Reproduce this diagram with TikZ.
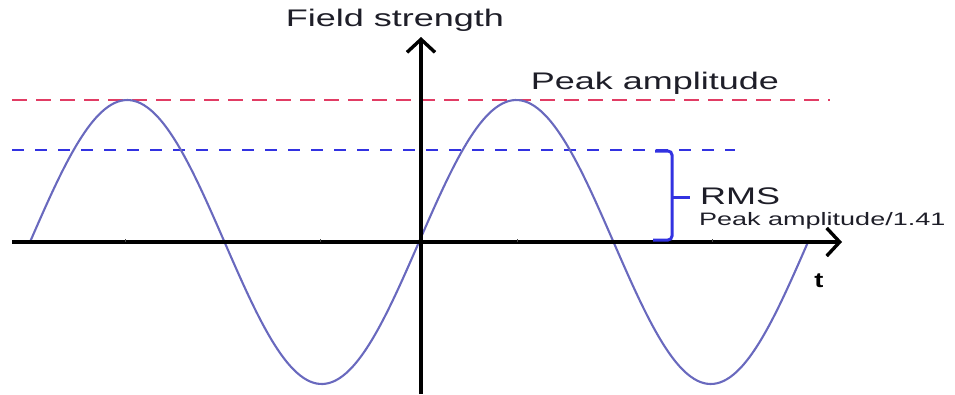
\documentclass[tikz,border=0pt]{standalone}
\usepackage{fontspec}
\setmainfont{Liberation Sans}
\usetikzlibrary{arrows.meta}
\definecolor{wave}{RGB}{105,105,190}
\definecolor{peakred}{RGB}{225,60,100}
\definecolor{rmsblue}{RGB}{50,50,225}
\definecolor{txt}{RGB}{30,30,40}
\begin{document}
\begin{tikzpicture}[x=1pt,y=-1pt,
  axis/.style={line width=3.6pt,black,-{Straight Barb[length=13pt,width=28pt,line width=3.4pt]}},
  lbl/.style={text=txt,inner sep=0pt,font=\fontsize{24}{26}\selectfont},
  small/.style={text=txt,inner sep=0pt,font=\fontsize{18}{20}\selectfont},
  refline/.style={line width=2.8pt,dash pattern=on 15pt off 9pt}]
\useasboundingbox (0,0) rectangle (955,394);
% coordinates
\coordinate (xs) at (12,242);
\coordinate (xe) at (842,242);
\coordinate (ys) at (421,394);
\coordinate (ye) at (421,37);
\coordinate (pks) at (12,100);
\coordinate (pke) at (830,100);
\coordinate (rms) at (12,150);
\coordinate (rme) at (735,150);
% reference lines
\draw[refline,peakred] (pks) -- (pke);
\draw[refline,rmsblue,dash pattern=on 12pt off 11pt] (rms) -- (rme);
% sine wave
\draw[wave,line width=2.1pt] plot[domain=0:778,samples=240,smooth] ({30+\x},{242-142*sin(0.92545*\x)});
% axes
\draw[axis] (xs) -- (xe);
\draw[axis] (ys) -- (ye);
% ticks
\foreach \tx in {125,320,517,712}{\draw[line width=0.8pt,black!70] (\tx,242) -- (\tx,238.5);}
% brace
\coordinate (bt) at (655,151);
\coordinate (bb) at (653,240);
\coordinate (bm) at (672,197);
\coordinate (bmt) at (690,197);
\draw[rmsblue,line width=3pt,rounded corners=4pt] (bt) -- (672,151) -- (672,240) -- (bb);
\draw[rmsblue,line width=3pt] (bm) -- (bmt);
% labels
\node[lbl] (fs) at (395,20) {\scalebox{1.5}[1]{Field strength}};
\node[lbl] (pa) at (655,83) {\scalebox{1.5}[1]{Peak amplitude}};
\node[lbl,anchor=west] (rmsl) at (700,196) {\scalebox{1.5}[1]{RMS}};
\node[small,anchor=west] (pal) at (699,221) {\scalebox{1.5}[1]{Peak amplitude/1.41}};
\node[inner sep=0pt,font=\fontsize{21}{23}\selectfont\bfseries] (t) at (819,281) {\scalebox{1.3}[1]{t}};
\end{tikzpicture}
\end{document}
